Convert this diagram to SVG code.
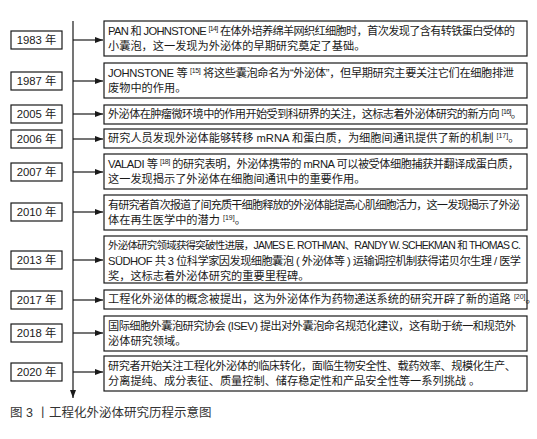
<svg xmlns="http://www.w3.org/2000/svg" width="537" height="439" viewBox="0 0 537 439">
<style>
.bx{fill:#fff;stroke:#1a1a1a;stroke-width:1.2}
.ln{stroke:#1a1a1a;stroke-width:1.2;fill:none}
.yr{font-family:"Liberation Sans","Noto Sans CJK SC",sans-serif;font-size:11.3px;fill:#1a1a1a;text-anchor:middle}
.t{font-family:"Liberation Sans","Noto Sans CJK SC",sans-serif;font-size:11.2px;fill:#1a1a1a}
.s{font-size:10.5px}
.sup{font-size:7px}
.cap{font-family:"Liberation Sans","Noto Sans CJK SC",sans-serif;font-size:12.5px;fill:#333}
</style>
<defs>
<marker id="ah" markerWidth="8" markerHeight="6" refX="8" refY="3" orient="auto" markerUnits="userSpaceOnUse">
<path d="M0,0 L8,3 L0,6 Z" fill="#1a1a1a"/>
</marker>
</defs>
<g id="connectors">
<line class="ln" x1="73" y1="21" x2="73" y2="398" marker-end="url(#ah)"/>
<line class="ln" x1="73" y1="40" x2="103" y2="40" marker-end="url(#ah)"/>
<line class="ln" x1="73" y1="81" x2="103" y2="81" marker-end="url(#ah)"/>
<line class="ln" x1="73" y1="114" x2="103" y2="114" marker-end="url(#ah)"/>
<line class="ln" x1="73" y1="139" x2="103" y2="139" marker-end="url(#ah)"/>
<line class="ln" x1="73" y1="172" x2="103" y2="172" marker-end="url(#ah)"/>
<line class="ln" x1="73" y1="212" x2="103" y2="212" marker-end="url(#ah)"/>
<line class="ln" x1="73" y1="260" x2="103" y2="260" marker-end="url(#ah)"/>
<line class="ln" x1="73" y1="300" x2="103" y2="300" marker-end="url(#ah)"/>
<line class="ln" x1="73" y1="333" x2="103" y2="333" marker-end="url(#ah)"/>
<line class="ln" x1="73" y1="372" x2="103" y2="372" marker-end="url(#ah)"/>
</g>
<g id="y1983"><rect class="bx" x="11" y="31" width="51" height="18"/><text class="yr" x="36.5" y="44">1983 年</text></g>
<g id="y1987"><rect class="bx" x="11" y="72" width="51" height="18"/><text class="yr" x="36.5" y="85">1987 年</text></g>
<g id="y2005"><rect class="bx" x="11" y="105" width="51" height="18"/><text class="yr" x="36.5" y="118">2005 年</text></g>
<g id="y2006"><rect class="bx" x="11" y="130" width="51" height="18"/><text class="yr" x="36.5" y="143">2006 年</text></g>
<g id="y2007"><rect class="bx" x="11" y="163" width="51" height="18"/><text class="yr" x="36.5" y="176">2007 年</text></g>
<g id="y2010"><rect class="bx" x="11" y="203" width="51" height="18"/><text class="yr" x="36.5" y="216">2010 年</text></g>
<g id="y2013"><rect class="bx" x="11" y="251" width="51" height="18"/><text class="yr" x="36.5" y="264">2013 年</text></g>
<g id="y2017"><rect class="bx" x="11" y="291" width="51" height="18"/><text class="yr" x="36.5" y="304">2017 年</text></g>
<g id="y2018"><rect class="bx" x="11" y="324" width="51" height="18"/><text class="yr" x="36.5" y="337">2018 年</text></g>
<g id="y2020"><rect class="bx" x="11" y="363" width="51" height="18"/><text class="yr" x="36.5" y="376">2020 年</text></g>

<g id="e1983"><rect class="bx" x="104" y="21" width="423" height="35"/>
<text class="t" x="108" y="35" textLength="407" lengthAdjust="spacing">PAN 和 JOHNSTONE <tspan class="sup" dy="-4">[14]</tspan><tspan dy="4"> 在体外培养绵羊网织红细胞时，首次发现了含有转铁蛋白受体的</tspan></text>
<text class="t" x="108" y="50">小囊泡，这一发现为外泌体的早期研究奠定了基础。</text></g>
<g id="e1987"><rect class="bx" x="104" y="63" width="423" height="35"/>
<text class="t" x="108" y="77" textLength="406" lengthAdjust="spacing">JOHNSTONE 等 <tspan class="sup" dy="-4">[15]</tspan><tspan dy="4"> 将这些囊泡命名为“外泌体”，但早期研究主要关注它们在细胞排泄</tspan></text>
<text class="t" x="108" y="92">废物中的作用。</text></g>
<g id="e2005"><rect class="bx" x="104" y="105" width="423" height="19"/>
<text class="t" x="108" y="118" textLength="414" lengthAdjust="spacing">外泌体在肿瘤微环境中的作用开始受到科研界的关注，这标志着外泌体研究的新方向 <tspan class="sup" dy="-4">[16]</tspan><tspan dy="4">。</tspan></text></g>
<g id="e2006"><rect class="bx" x="104" y="129" width="423" height="19"/>
<text class="t" x="108" y="142">研究人员发现外泌体能够转移 mRNA 和蛋白质，为细胞间通讯提供了新的机制 <tspan class="sup" dy="-4">[17]</tspan><tspan dy="4">。</tspan></text></g>
<g id="e2007"><rect class="bx" x="104" y="154" width="423" height="35"/>
<text class="t" x="108" y="168" textLength="411" lengthAdjust="spacing">VALADI 等 <tspan class="sup" dy="-4">[18]</tspan><tspan dy="4"> 的研究表明，外泌体携带的 mRNA 可以被受体细胞捕获并翻译成蛋白质，</tspan></text>
<text class="t" x="108" y="183">这一发现揭示了外泌体在细胞间通讯中的重要作用。</text></g>
<g id="e2010"><rect class="bx" x="104" y="195" width="423" height="35"/>
<text class="t" x="108" y="209" textLength="412" lengthAdjust="spacing">有研究者首次报道了间充质干细胞释放的外泌体能提高心肌细胞活力，这一发现揭示了外泌</text>
<text class="t" x="108" y="224">体在再生医学中的潜力 <tspan class="sup" dy="-4">[19]</tspan><tspan dy="4">。</tspan></text></g>
<g id="e2013"><rect class="bx" x="104" y="236" width="423" height="47"/>
<text class="t s" x="108" y="249" textLength="413" lengthAdjust="spacing">外泌体研究领域获得突破性进展，JAMES E. ROTHMAN、RANDY W. SCHEKMAN 和 THOMAS C.</text>
<text class="t" x="108" y="264.5" textLength="413" lengthAdjust="spacing">SÜDHOF 共 3 位科学家因发现细胞囊泡 ( 外泌体等 ) 运输调控机制获得诺贝尔生理 / 医学</text>
<text class="t" x="108" y="280">奖，这标志着外泌体研究的重要里程碑。</text></g>
<g id="e2017"><rect class="bx" x="104" y="290" width="423" height="19"/>
<text class="t" x="108" y="303">工程化外泌体的概念被提出，这为外泌体作为药物递送系统的研究开辟了新的道路 <tspan class="sup" dy="-4">[20]</tspan><tspan dy="4">。</tspan></text></g>
<g id="e2018"><rect class="bx" x="104" y="316" width="423" height="35"/>
<text class="t" x="108" y="330" textLength="408" lengthAdjust="spacing">国际细胞外囊泡研究协会 (ISEV) 提出对外囊泡命名规范化建议，这有助于统一和规范外</text>
<text class="t" x="108" y="345">泌体研究领域。</text></g>
<g id="e2020"><rect class="bx" x="104" y="356" width="423" height="35"/>
<text class="t" x="108" y="370" textLength="408" lengthAdjust="spacing">研究者开始关注工程化外泌体的临床转化，面临生物安全性、载药效率、规模化生产、</text>
<text class="t" x="108" y="385">分离提纯、成分表征、质量控制、储存稳定性和产品安全性等一系列挑战 。</text></g>
<text class="cap" x="10" y="417">图 3 丨工程化外泌体研究历程示意图</text>
</svg>
